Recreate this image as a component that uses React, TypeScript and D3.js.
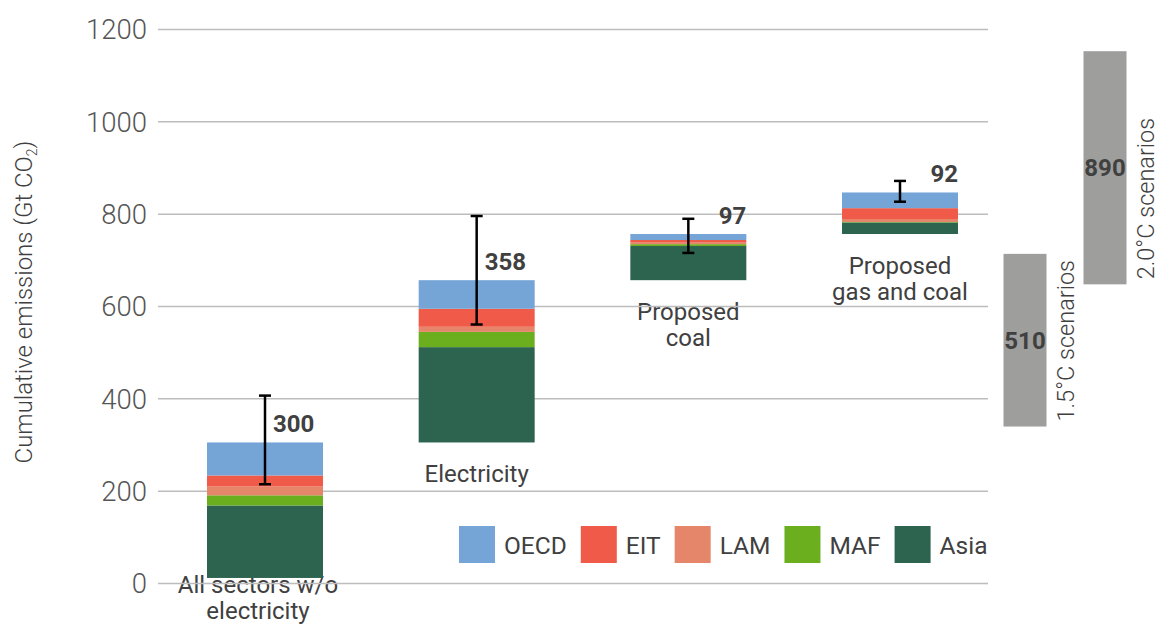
import React from "react";
import * as d3 from "d3";

const categories = ["All sectors w/o electricity", "Electricity", "Proposed coal", "Proposed gas and coal"];
const categoryLines = [["All sectors w/o", "electricity"], ["Electricity"], ["Proposed", "coal"], ["Proposed", "gas and coal"]];
const regions = ["OECD", "EIT", "LAM", "MAF", "Asia"];
const regionColors = ["#75A5D7", "#F05A48", "#E5856A", "#6BAF1F", "#2D6450"];
const baseStart = 12;
const asia = [157, 206.5, 74, 25];
const maf = [22, 33, 4, 1];
const lam = [19, 11, 4.5, 6.5];
const eit = [24, 39, 4.5, 23.5];
const oecd = [71.5, 62, 13, 34];
const totals = [300, 358, 97, 92];
const errLow = [215, 561, 716, 827];
const errHigh = [407, 796, 790, 872];
const yTicks = [0, 200, 400, 600, 800, 1000, 1200];
const scenarios = ["1.5°C scenarios", "2.0°C scenarios"];
const scenarioLow = [340, 648];
const scenarioHigh = [714, 1153];
const scenarioBudget = [510, 890];

const W = 1160;
const H = 624;
const FONT = "Roboto, 'Noto Sans', sans-serif";
const TEXT = "#404040";

function measure(text: string, size: number, weight = 400) {
  const c = document.createElement("canvas").getContext("2d");
  if (!c) return text.length * size * 0.55;
  c.font = `${weight} ${size}px Roboto`;
  return c.measureText(text).width;
}

export default function App() {
  const y = d3.scaleLinear().domain([0, 1200]).range([583.5, 29.5]);
  const x = d3.scalePoint<string>().domain(categories).range([265, 900]);
  const barW = 116;
  const xs = d3.scalePoint<string>().domain(scenarios).range([1025, 1105]);
  const sW = 43;
  const gridX0 = 158;
  const gridX1 = 988;

  // stack bottom→top: Asia, MAF, LAM, EIT, OECD
  const stackSeries = [asia, maf, lam, eit, oecd];
  const stackColors = [regionColors[4], regionColors[3], regionColors[2], regionColors[1], regionColors[0]];
  const bars: { cat: string; segs: { y0: number; y1: number; color: string }[]; base: number; top: number }[] = [];
  let running = baseStart;
  categories.forEach((cat, i) => {
    const base = running;
    const segs = stackSeries.map((s, k) => {
      const y0 = running;
      running += s[i];
      return { y0, y1: running, color: stackColors[k] };
    });
    bars.push({ cat, segs, base, top: running });
  });

  // legend layout
  const legSize = 24.5;
  let lx = 459;
  const legend = regions.map((r, i) => {
    const item = { r, color: regionColors[i], x: lx };
    lx += 36 + 9 + measure(r, legSize) + 14;
    return item;
  });

  const catSize = 24;
  const lineH = 26;

  return (
    <svg width={W} height={H} style={{ position: "absolute", left: 0, top: 0, display: "block", background: "#fff" }} fontFamily={FONT}>
      {/* category labels (under gridlines) */}
      {bars.map((b, i) =>
        categoryLines[i].map((ln, j) => {
          const cx = x(b.cat)! - (i === 0 ? 7 : 0);
          const first = Math.min(y(b.base) + 40, H - 31);
          return (
            <text key={"cl" + i + "_" + j} x={cx} y={first + j * lineH} textAnchor="middle" fontSize={catSize} fill={TEXT} fontWeight={400}>
              {ln}
            </text>
          );
        })
      )}
      {/* gridlines */}
      {yTicks.map((t) => (
        <line key={"g" + t} x1={gridX0} x2={gridX1} y1={y(t)} y2={y(t)} stroke="#bdbdbd" strokeWidth={1.5} />
      ))}
      {/* tick labels */}
      {yTicks.map((t) => (
        <text key={"t" + t} x={147} y={y(t)} dy="0.36em" textAnchor="end" fontSize={27.5} fontWeight={300} fill="#555">{t}</text>
      ))}
      {/* y-axis title */}
      <text transform={`translate(32, ${302}) rotate(-90)`} textAnchor="middle" fontSize={24} fontWeight={300} fill={TEXT}>
        Cumulative emissions (Gt CO<tspan fontSize={14} dy={5}>2</tspan><tspan dy={-5}>)</tspan>
      </text>
      {/* bars */}
      {bars.map((b, i) => (
        <g key={"b" + i}>
          {b.segs.map((s, k) => (
            <rect key={k} x={x(b.cat)! - barW / 2} width={barW} y={y(s.y1)} height={y(s.y0) - y(s.y1)} fill={s.color} />
          ))}
        </g>
      ))}
      {/* error bars */}
      {bars.map((b, i) => {
        const cx = x(b.cat)!;
        return (
          <g key={"e" + i} stroke="#000" strokeWidth={2.5}>
            <line x1={cx} x2={cx} y1={y(errLow[i])} y2={y(errHigh[i])} />
            <line x1={cx - 6} x2={cx + 6} y1={y(errLow[i])} y2={y(errLow[i])} />
            <line x1={cx - 6} x2={cx + 6} y1={y(errHigh[i])} y2={y(errHigh[i])} />
          </g>
        );
      })}
      {/* value labels */}
      {bars.map((b, i) => {
        const cx = x(b.cat)!;
        const base = y(b.top) - 10;
        const clash = base - y(errHigh[i]) < 20;
        return (
          <text key={"v" + i} x={clash ? cx + barW / 2 : cx + 8} y={base} textAnchor={clash ? "end" : "start"}
            fontSize={24} fontWeight={700} fill={TEXT}>{totals[i]}</text>
        );
      })}
      {/* legend */}
      {legend.map((l) => (
        <g key={l.r}>
          <rect x={l.x} y={526} width={36} height={37} fill={l.color} />
          <text x={l.x + 36 + 9} y={553.5} fontSize={legSize} fill={TEXT}>{l.r}</text>
        </g>
      ))}
      {/* scenario bars */}
      {scenarios.map((s, i) => {
        const cx = xs(s)!;
        const top = y(scenarioHigh[i]);
        const bot = y(scenarioLow[i]);
        return (
          <g key={"s" + i}>
            <rect x={cx - sW / 2} width={sW} y={top} height={bot - top} fill="#9E9E9C" />
            <text x={cx} y={(top + bot) / 2} dy="0.36em" textAnchor="middle" fontSize={24} fontWeight={700} fill={TEXT}>{scenarioBudget[i]}</text>
            <text transform={`translate(${cx + sW / 2 + 27}, ${bot - 5}) rotate(-90)`} textAnchor="start" fontSize={23.5} fontWeight={300} fill={TEXT}>{s}</text>
          </g>
        );
      })}
    </svg>
  );
}
